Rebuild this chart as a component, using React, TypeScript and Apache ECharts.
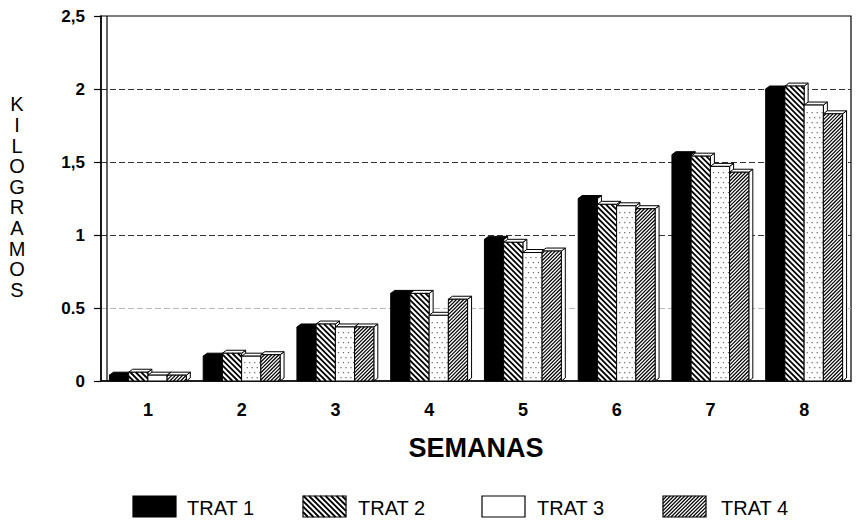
import React, { useEffect, useRef } from "react";
import * as echarts from "echarts";

const weeks = ["1", "2", "3", "4", "5", "6", "7", "8"];
const seriesNames = ["TRAT 1", "TRAT 2", "TRAT 3", "TRAT 4"];
const trat1 = [0.04, 0.17, 0.37, 0.6, 0.97, 1.25, 1.55, 2.0];
const trat2 = [0.06, 0.19, 0.39, 0.6, 0.95, 1.21, 1.54, 2.02];
const trat3 = [0.04, 0.17, 0.37, 0.45, 0.88, 1.2, 1.47, 1.89];
const trat4 = [0.04, 0.18, 0.37, 0.56, 0.89, 1.18, 1.43, 1.83];
const yTickLabels: Record<string, string> = {
  "0": "0",
  "0.5": "0.5",
  "1": "1",
  "1.5": "1,5",
  "2": "2",
  "2.5": "2,5",
};
const yName = "KILOGRAMOS";
const xName = "SEMANAS";

const FONT = "'Liberation Sans', Arial, sans-serif";

type Pattern = {
  fill: string;
  hatch: null | { dir: 1 | -1; step: number; width: number };
  dots?: boolean;
};
const patterns: Pattern[] = [
  { fill: "#000", hatch: null },
  { fill: "#fff", hatch: { dir: 1, step: 5.5, width: 1.8 } },
  { fill: "#fff", hatch: null, dots: true },
  { fill: "#fff", hatch: { dir: -1, step: 3.6, width: 1.2 } },
];

function hatchLines(x0: number, y0: number, x1: number, y1: number, p: Pattern) {
  const out: any[] = [];
  if (!p.hatch) return out;
  const { dir, step, width } = p.hatch;
  if (dir === 1) {
    const cMin = y0 - x1;
    const cMax = y1 - x0;
    for (let c = Math.ceil(cMin / step) * step; c <= cMax; c += step) {
      const xa = Math.max(x0, y0 - c);
      const xb = Math.min(x1, y1 - c);
      if (xb > xa + 0.2)
        out.push({
          type: "line",
          shape: { x1: xa, y1: xa + c, x2: xb, y2: xb + c },
          style: { stroke: "#000", lineWidth: width },
          silent: true,
        });
    }
  } else {
    const cMin = x0 + y0;
    const cMax = x1 + y1;
    for (let c = Math.ceil(cMin / step) * step; c <= cMax; c += step) {
      const xa = Math.max(x0, c - y1);
      const xb = Math.min(x1, c - y0);
      if (xb > xa + 0.2)
        out.push({
          type: "line",
          shape: { x1: xa, y1: c - xa, x2: xb, y2: c - xb },
          style: { stroke: "#000", lineWidth: width },
          silent: true,
        });
    }
  }
  return out;
}

function dotMarks(x0: number, y0: number, x1: number, y1: number) {
  const out: any[] = [];
  const step = 5;
  let row = 0;
  for (let y = Math.ceil(y0 / step) * step + 2; y < y1 - 2; y += step, row++) {
    const off = row % 2 === 0 ? 0 : step / 2;
    for (let x = x0 + 2.5 + off; x < x1 - 1.5; x += step) {
      out.push({
        type: "rect",
        shape: { x, y, width: 1.2, height: 1.2 },
        style: { fill: "#666" },
        silent: true,
      });
    }
  }
  return out;
}

const DX = 4;
const DY = -3;

function makeRenderItem(sIdx: number) {
  return (params: any, api: any) => {
    const idx = api.value(0);
    const val = api.value(1);
    const base = api.coord([idx, 0]);
    const top = api.coord([idx, val]);
    const band = api.size([1, 0])[0];
    const bw = band * 0.205;
    const x0 = base[0] - 2 * bw + sIdx * bw;
    const x1 = x0 + bw;
    const yT = top[1];
    const yB = base[1];
    const p = patterns[sIdx];
    const children: any[] = [
      {
        type: "polygon",
        shape: {
          points: [
            [x1, yT],
            [x1 + DX, yT + DY],
            [x1 + DX, yB + DY],
            [x1, yB],
          ],
        },
        style: { fill: "#fff", stroke: "#000", lineWidth: 1 },
      },
      {
        type: "polygon",
        shape: {
          points: [
            [x0, yT],
            [x0 + DX, yT + DY],
            [x1 + DX, yT + DY],
            [x1, yT],
          ],
        },
        style: { fill: sIdx === 0 ? "#000" : "#fff", stroke: "#000", lineWidth: 1 },
      },
      {
        type: "rect",
        shape: { x: x0, y: yT, width: bw, height: yB - yT },
        style: { fill: p.fill, stroke: "#000", lineWidth: 1 },
      },
      ...hatchLines(x0, yT, x1, yB, p),
      ...(p.dots ? dotMarks(x0, yT, x1, yB) : []),
    ];
    return { type: "group", children };
  };
}

function legendGraphics() {
  const swX = [133, 303, 482, 663];
  const txtX = [187, 358, 537, 721];
  const swY = 496;
  const swW = 43;
  const swH = 21;
  const els: any[] = [];
  seriesNames.forEach((name, i) => {
    const p = patterns[i];
    els.push({
      type: "rect",
      shape: { x: swX[i], y: swY, width: swW, height: swH },
      style: { fill: p.fill, stroke: "#000", lineWidth: 1.2 },
    });
    els.push(...hatchLines(swX[i], swY, swX[i] + swW, swY + swH, p));
    els.push({
      type: "text",
      x: txtX[i],
      y: swY + swH / 2 + 1,
      style: {
        text: name,
        fill: "#000",
        font: `normal 20px ${FONT}`,
        verticalAlign: "middle",
        align: "left",
      },
    });
  });
  return els;
}

export default function App() {
  const ref = useRef<HTMLDivElement>(null);
  useEffect(() => {
    if (!ref.current) return;
    const chart = echarts.init(ref.current, undefined, { renderer: "svg" });
    const data = [trat1, trat2, trat3, trat4];
    const option: any = {
      animation: false,
      backgroundColor: "#fff",
      grid: {
        left: 101,
        right: 5,
        top: 16,
        bottom: 145,
        show: true,
        borderColor: "#000",
        borderWidth: 1.2,
      },
      xAxis: {
        type: "category",
        data: weeks,
        axisLine: { lineStyle: { color: "#000", width: 1.5 } },
        axisTick: { alignWithLabel: true, length: 7, lineStyle: { color: "#000", width: 1.2 } },
        axisLabel: {
          color: "#000",
          fontSize: 18,
          fontWeight: "bold",
          fontFamily: FONT,
          margin: 20,
        },
        name: xName,
        nameLocation: "middle",
        nameGap: 53,
        nameTextStyle: { color: "#000", fontSize: 27, fontWeight: "bold", fontFamily: FONT },
      },
      yAxis: {
        type: "value",
        min: 0,
        max: 2.5,
        interval: 0.5,
        axisLine: { show: true, lineStyle: { color: "#000", width: 1.5 } },
        axisTick: { show: true, length: 7, lineStyle: { color: "#000", width: 1.2 } },
        axisLabel: {
          color: "#000",
          fontSize: 17,
          fontWeight: "bold",
          fontFamily: FONT,
          margin: 16,
          formatter: (v: number) => yTickLabels[String(v)] ?? String(v),
        },
        splitLine: {
          show: true,
          lineStyle: {
            color: ["rgba(0,0,0,0)", "#bbb", "#333", "#333", "#333", "rgba(0,0,0,0)"],
            type: [6, 3],
            width: 1.2,
          },
        },
      },
      graphic: [
        {
          type: "line",
          shape: { x1: 107, y1: 16, x2: 107, y2: 381 },
          style: { stroke: "#000", lineWidth: 1.2 },
          z: 10,
        },
        {
          type: "text",
          x: 17,
          y: 94,
          style: {
            text: yName.split("").join("\n"),
            fill: "#000",
            font: `normal 20px ${FONT}`,
            lineHeight: 20.6,
            align: "center",
            verticalAlign: "top",
          },
        },
        ...legendGraphics(),
      ],
      series: data.map((arr, s) => ({
        type: "custom",
        name: seriesNames[s],
        renderItem: makeRenderItem(s),
        encode: { x: 0, y: 1 },
        data: arr.map((v, i) => [i, v]),
        z: 2 + s,
      })),
    };
    chart.setOption(option);
    return () => chart.dispose();
  }, []);
  return (
    <div
      ref={ref}
      style={{ position: "absolute", left: 0, top: 0, width: 856, height: 526, background: "#fff" }}
    />
  );
}
